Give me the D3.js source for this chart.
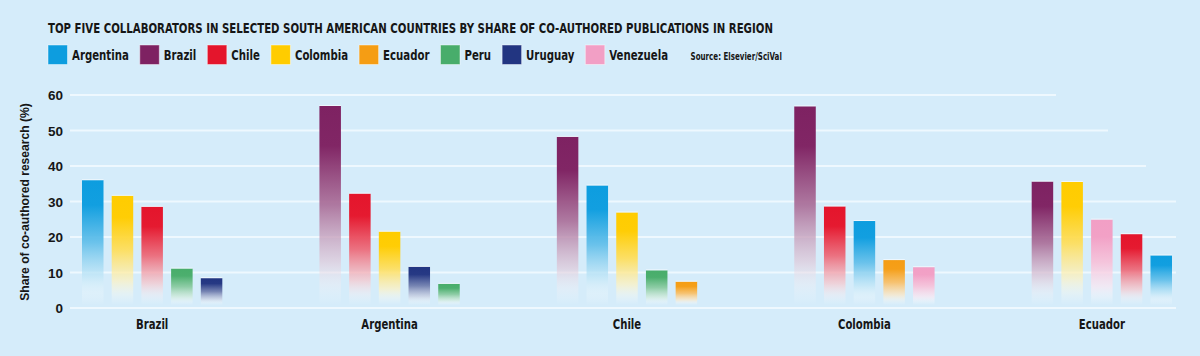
<!DOCTYPE html>
<html>
<head>
<meta charset="utf-8">
<script src="https://cdn.jsdelivr.net/npm/d3@7/dist/d3.min.js"></script>
<style>
  html, body { margin: 0; padding: 0; background: #d5ecfa; }
  svg { display: block; }
</style>
</head>
<body>
<svg id="chart" width="1200" height="356"></svg>
<script>
// ---------- DATA ----------
const titleText = "TOP FIVE COLLABORATORS IN SELECTED SOUTH AMERICAN COUNTRIES BY SHARE OF CO-AUTHORED PUBLICATIONS IN REGION";
const sourceText = "Source: Elsevier/SciVal";
const yTitle = "Share of co-authored research (%)";
const legendCountries = ["Argentina", "Brazil", "Chile", "Colombia", "Ecuador", "Peru", "Uruguay", "Venezuela"];
const legendColors = ["#0d9ddf", "#7e2262", "#e4152c", "#ffcc00", "#f59d14", "#48ad6b", "#223581", "#f29fc5"];
const groups = ["Brazil", "Argentina", "Chile", "Colombia", "Ecuador"];
const brazilPartners    = ["Argentina", "Colombia", "Chile", "Peru", "Uruguay"];
const brazilShares      = [36.0, 31.6, 28.5, 11.1, 8.4];
const argentinaPartners = ["Brazil", "Chile", "Colombia", "Uruguay", "Peru"];
const argentinaShares   = [56.9, 32.2, 21.5, 11.6, 6.8];
const chilePartners     = ["Brazil", "Argentina", "Colombia", "Peru", "Ecuador"];
const chileShares       = [48.2, 34.5, 26.9, 10.6, 7.4];
const colombiaPartners  = ["Brazil", "Chile", "Argentina", "Ecuador", "Venezuela"];
const colombiaShares    = [56.8, 28.6, 24.5, 13.5, 11.5];
const ecuadorPartners   = ["Brazil", "Colombia", "Venezuela", "Chile", "Argentina"];
const ecuadorShares     = [35.6, 35.5, 24.9, 20.8, 14.8];
const yTicks = [0, 10, 20, 30, 40, 50, 60];

const partnersByGroup = [brazilPartners, argentinaPartners, chilePartners, colombiaPartners, ecuadorPartners];
const sharesByGroup = [brazilShares, argentinaShares, chileShares, colombiaShares, ecuadorShares];
const rows = [];
groups.forEach((g, gi) => partnersByGroup[gi].forEach((p, i) =>
  rows.push({ group: g, idx: i, partner: p, value: sharesByGroup[gi][i] })));

// ---------- LAYOUT / STYLE ----------
const narrow = "'Liberation Sans Narrow', 'Arial Narrow', 'DejaVu Sans Condensed', sans-serif";
const sans = "'Liberation Sans', Arial, Helvetica, sans-serif";
const squeezeK = 0.775;           // condense DejaVu Sans Condensed to look like a narrow face
const ink = "#161616";
const gridColor = "#eef8fe";
const gridLeft = 70, gridRightDefault = 1176;
const gridRight = { 60: 1056, 50: 1108, 40: 1146 };

const svg = d3.select("#chart");
const color = d3.scaleOrdinal().domain(legendCountries).range(legendColors);

function squeeze(sel) {
  sel.each(function () {
    const w = this.getComputedTextLength();
    d3.select(this).attr("textLength", w * squeezeK).attr("lengthAdjust", "spacingAndGlyphs");
  });
  return sel;
}

const y = d3.scaleLinear().domain([0, 60]).range([308, 95]);
const x0 = d3.scaleBand().domain(groups).range([82, 1172]).paddingInner(0.409).paddingOuter(0);
const x1 = d3.scaleBand().domain(d3.range(5)).range([0, x0.bandwidth()]).paddingInner(0.276).paddingOuter(0);

// background
svg.append("rect").attr("width", 1200).attr("height", 356).attr("fill", "#d5ecfa");

// title
svg.append("text")
  .attr("x", 48).attr("y", 32.5)
  .attr("font-family", narrow).attr("font-weight", 700).attr("font-size", 14.6)
  .attr("fill", ink)
  .text(titleText)
  .call(squeeze);

// legend (flowing)
const legend = svg.append("g");
let lx = 48;
legendCountries.forEach((c) => {
  legend.append("rect")
    .attr("x", lx).attr("y", 45).attr("width", 19.5).attr("height", 19.5)
    .attr("fill", color(c)).attr("stroke", "rgba(255,255,255,0.45)").attr("stroke-width", 1);
  const t = legend.append("text")
    .attr("x", lx + 24).attr("y", 60)
    .attr("font-family", narrow).attr("font-weight", 700).attr("font-size", 14.6)
    .attr("fill", ink).text(c);
  const w = t.node().getComputedTextLength() * squeezeK;
  t.attr("textLength", w).attr("lengthAdjust", "spacingAndGlyphs");
  lx += 24 + w + 11;
});
legend.append("text")
  .attr("x", lx + 11.5).attr("y", 60)
  .attr("font-family", narrow).attr("font-weight", 700).attr("font-size", 10.2)
  .attr("fill", ink).text(sourceText)
  .call(squeeze);

// gridlines
const grid = svg.append("g");
grid.selectAll("line").data(yTicks).join("line")
  .attr("x1", gridLeft)
  .attr("x2", d => gridRight[d] !== undefined ? gridRight[d] : gridRightDefault)
  .attr("y1", d => y(d)).attr("y2", d => y(d))
  .attr("stroke", gridColor).attr("stroke-width", 2);

// y axis labels via d3 axis
const yAxis = svg.append("g")
  .attr("transform", "translate(63,0)")
  .call(d3.axisLeft(y).tickValues(yTicks).tickSize(0).tickPadding(0));
yAxis.select(".domain").remove();
yAxis.selectAll("text")
  .attr("font-family", sans).attr("font-weight", 700).attr("font-size", 13.5)
  .attr("fill", ink).attr("dy", "0.36em");

// y title
svg.append("text")
  .attr("transform", "translate(29,202) rotate(-90)")
  .attr("text-anchor", "middle")
  .attr("font-family", sans).attr("font-weight", 700).attr("font-size", 12.1)
  .attr("fill", ink).text(yTitle);

// gradients
const defs = svg.append("defs");
legendCountries.forEach((c, i) => {
  const col = color(c);
  const mix = d3.interpolateRgb(col, "#ffffff");
  const g = defs.append("linearGradient").attr("id", "grad" + i)
    .attr("x1", 0).attr("y1", 0).attr("x2", 0).attr("y2", 1);
  const stops = [
    [0, mix(0), 1],
    [0.2, mix(0.02), 1],
    [0.5, mix(0.35), 0.92],
    [0.78, mix(0.75), 0.7],
    [0.9, mix(0.92), 0.35],
    [1, mix(1), 0]
  ];
  stops.forEach(s => g.append("stop")
    .attr("offset", s[0]).attr("stop-color", s[1]).attr("stop-opacity", s[2]));
});

// bars
svg.append("g").selectAll("rect").data(rows).join("rect")
  .attr("x", d => x0(d.group) + x1(d.idx))
  .attr("width", x1.bandwidth())
  .attr("y", d => y(d.value))
  .attr("height", d => y(0) - 3 - y(d.value))
  .attr("fill", d => `url(#grad${legendCountries.indexOf(d.partner)})`);

// bar top highlight
svg.append("g").selectAll("line").data(rows).join("line")
  .attr("x1", d => x0(d.group) + x1(d.idx))
  .attr("x2", d => x0(d.group) + x1(d.idx) + x1.bandwidth())
  .attr("y1", d => y(d.value) - 0.5).attr("y2", d => y(d.value) - 0.5)
  .attr("stroke", "rgba(255,255,255,0.6)").attr("stroke-width", 1);

// group labels
svg.append("g").selectAll("text").data(groups).join("text")
  .attr("x", d => x0(d) + x0.bandwidth() / 2)
  .attr("y", 329)
  .attr("text-anchor", "middle")
  .attr("font-family", narrow).attr("font-weight", 700).attr("font-size", 14.5)
  .attr("fill", ink).text(d => d)
  .call(squeeze);
</script>
</body>
</html>
